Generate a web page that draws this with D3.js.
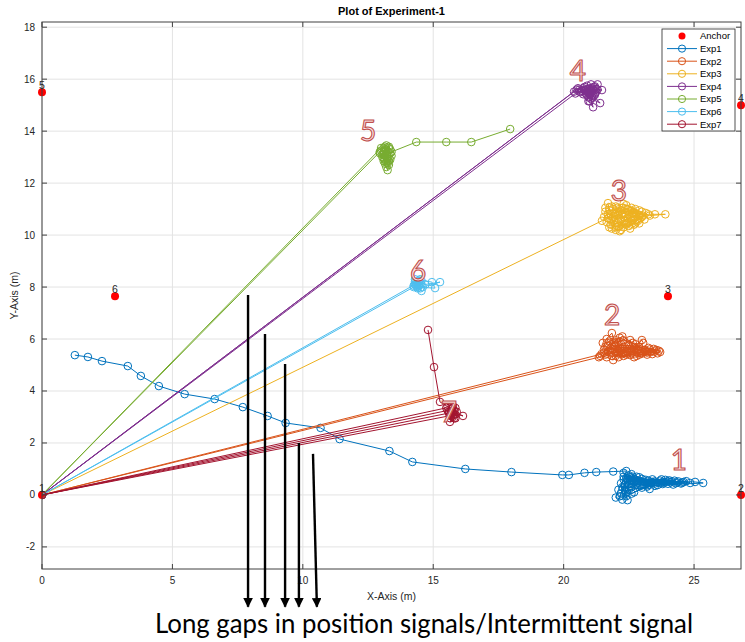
<!DOCTYPE html>
<html>
<head>
<meta charset="utf-8">
<script src="https://cdn.jsdelivr.net/npm/d3@7"></script>
<style>
  body { margin: 0; background: #fff; }
  svg { display: block; }
</style>
</head>
<body>
<svg id="chart" width="745" height="642"></svg>
<script>
// ---- Anchor positions (m) ----
const anchorIds = ["1", "2", "3", "4", "5", "6"];
const anchorX = [0, 26.8, 24.0, 26.8, 0, 2.8];
const anchorY = [0, 0, 7.65, 15.0, 15.5, 7.65];

// ---- Experiment tracks, [x, y] in metres, in time order ----
const exp1 = [
  [1.26,5.38],[1.76,5.31],[2.30,5.15],[3.29,4.96],[3.79,4.58],[4.48,4.19],[5.47,3.88],[6.62,3.69],
  [7.70,3.38],[8.65,3.04],[9.34,2.77],[10.68,2.58],[11.41,2.15],[13.32,1.69],[14.20,1.27],[16.23,1.00],
  [18.00,0.88],[19.95,0.77],[20.20,0.77],[20.80,0.85],[21.25,0.88],[21.90,0.90],[22.40,0.92],
  [22.30,0.60],[22.10,0.20],[22.00,-0.10],[22.25,-0.18],[22.40,0.10],[22.60,0.55],[23.10,0.50],[23.60,0.48],
  [22.50,0.75],[22.20,0.45],[22.45,-0.20],[22.35,0.30],[23.30,0.23],[22.70,0.62],[23.90,0.50],[24.30,0.45],
  [22.80,0.40],[22.30,0.70],[22.60,0.30],[23.40,0.60],[24.10,0.48],[24.60,0.50],[24.85,0.46],[23.80,0.42],
  [22.90,0.55],[22.40,0.50],[22.20,0.05],[22.55,0.68],[23.20,0.45],[24.40,0.52],[25.04,0.50],[25.35,0.46],
  [24.20,0.40],[23.50,0.52],[22.70,0.48],[22.30,0.85],[22.60,0.42],[23.00,0.62],[23.70,0.55],[24.00,0.43],
  [22.50,0.20],[22.15,-0.05],[22.35,0.40],[22.80,0.70],[23.30,0.40],[23.90,0.58],[24.50,0.44],[24.70,0.53],
  [23.60,0.38],[22.95,0.35],[22.45,0.62],[22.60,0.80],[23.15,0.58],[23.80,0.50],[24.25,0.55],
  [22.40,0.65],[22.70,0.55],[23.00,0.48],[23.40,0.50],[23.70,0.45],[24.00,0.52],[24.35,0.48],[23.50,0.44],
  [22.90,0.68],[22.55,0.58],[22.25,0.30],[22.40,-0.05],[22.70,0.10],[23.00,0.28],[23.50,0.35],[22.80,0.52],
  [23.25,0.55],[23.75,0.60],[24.15,0.52],[24.55,0.47],[23.85,0.47],[23.05,0.40],[22.50,0.40],[22.65,0.70],
  [23.35,0.48],[24.05,0.56],[22.85,0.46],[22.35,0.20],[22.60,0.05],[23.20,0.32]
];
const exp2 = [
  [21.40,5.35],[21.65,5.30],[21.90,5.19],[22.10,5.45],[21.55,5.60],[21.50,5.85],[21.85,6.23],[22.00,5.70],
  [22.40,5.55],[22.80,5.50],[23.20,5.48],[23.70,5.50],[23.40,5.42],[22.90,5.40],[22.30,5.35],[21.80,5.45],
  [22.20,5.80],[22.55,5.96],[22.70,5.62],[23.00,5.96],[23.05,5.85],[22.60,5.45],[22.10,5.30],[21.70,5.50],
  [21.35,5.30],[0,0],[21.45,5.42],
  [22.00,5.95],[22.35,5.68],[23.10,5.58],[23.50,5.52],[22.80,5.35],[22.20,5.55],[21.60,5.40],[21.95,5.75],
  [22.50,5.75],[23.30,5.60],[23.60,5.45],[22.70,5.30],[22.00,5.35],[22.45,5.50],[21.80,5.65],[22.90,5.70],
  [23.35,5.50],[22.15,6.05],[21.75,5.90],[22.25,5.42],
  [21.60,5.70],[22.05,5.60],[22.60,5.62],[23.15,5.52],[23.55,5.58],[22.95,5.48],[22.40,5.40],[21.85,5.35],
  [21.55,5.48],[21.95,5.88],[22.30,5.95],[22.75,5.80],[23.25,5.66],[23.65,5.55],[23.00,5.44],[22.50,5.60],
  [22.05,5.50],[21.70,5.75],[22.25,6.10],[22.65,5.85],[23.20,5.40],[22.85,5.58],[22.35,5.48],[21.90,5.60],
  [21.65,6.00],[22.10,5.85],[22.55,5.38],[23.45,5.62],[22.70,5.70],[22.15,5.65]
];
const exp3 = [
  [0,0],[21.47,10.55],[21.70,10.80],[21.60,11.05],[21.70,11.23],[22.00,11.10],[22.30,11.20],[22.60,11.05],
  [22.90,10.95],[22.50,10.80],[22.10,10.65],[21.80,10.40],[22.00,10.20],[22.20,10.20],[22.40,10.45],[22.80,10.60],
  [23.05,10.75],[23.25,10.80],[23.50,10.80],[23.90,10.80],[23.30,10.75],[22.70,10.85],[22.20,10.95],[21.90,11.00],
  [21.55,10.70],[21.80,10.60],[22.30,10.70],[22.60,10.55],[22.95,10.65],[22.50,10.35],[22.05,10.45],[21.65,10.50],
  [21.95,10.85],[22.45,11.00],[22.80,10.80],[22.35,10.55],[21.85,10.25],[22.15,10.90],[22.65,10.70],[23.00,10.90],
  [22.25,11.05],[21.75,10.95],[22.55,10.90],[22.10,10.35],[22.75,10.45],
  [21.60,10.90],[21.90,10.70],[22.25,10.85],[22.60,10.95],[22.90,10.75],[23.10,10.60],[22.70,10.40],[22.30,10.30],
  [21.95,10.55],[21.70,10.65],[22.05,11.05],[22.40,11.15],[22.75,11.00],[22.85,10.55],[22.45,10.65],[22.00,10.30],
  [21.80,10.80],[22.20,10.60],[22.55,10.25],[22.90,10.45],[23.15,10.85],[22.35,10.85],[21.85,11.10],[22.10,10.75],
  [22.65,10.60],[22.40,10.40],[21.75,10.30],[22.15,10.15],[22.60,10.80],[23.00,10.70]
];
const exp4 = [
  [0,0],[20.45,15.45],[20.60,15.60],[20.80,15.70],[21.05,15.80],[21.20,15.72],[21.00,15.55],[20.85,15.45],
  [20.95,15.30],[21.10,15.40],[21.30,15.60],[21.47,15.58],[20.50,15.60],[0,0],[20.40,15.52],
  [21.20,15.45],[20.95,15.15],[21.13,14.92],[21.05,15.25],[21.40,15.08],[21.15,15.35],[20.70,15.55],
  [20.55,15.65],[20.90,15.75],[21.10,15.65],[21.25,15.52],[20.90,15.50],[20.75,15.42],[21.00,15.65],
  [21.30,15.80],[21.00,15.40],
  [20.65,15.50],[20.80,15.60],[20.95,15.62],[21.15,15.55],[21.05,15.45],[20.90,15.38],[21.10,15.28],[21.00,15.15],
  [21.15,15.70],[20.75,15.65],[20.60,15.52],[21.25,15.62],[20.95,15.45],[21.05,15.58],[20.85,15.55],[21.20,15.40]
];
const exp5 = [
  [17.95,14.08],[16.46,13.58],[15.50,13.58],[14.35,13.58],[13.40,13.20],[13.25,13.05],[13.10,12.95],
  [13.20,12.80],[13.35,12.90],[13.30,12.70],[13.25,12.50],[13.15,12.75],[13.05,13.10],[13.20,13.45],
  [12.95,13.20],[0,0],[13.00,13.35],[13.15,13.40],[13.30,13.35],[13.35,13.30],[13.10,13.20],[13.25,12.95],
  [13.40,13.05],[13.15,13.30],[12.95,13.15],[13.30,12.85],
  [13.10,13.10],[13.25,13.20],[13.30,13.05],[13.15,12.90],[13.25,12.75],[13.20,12.62],[13.10,12.85],[13.05,13.00],
  [13.20,13.30],[13.30,13.40],[13.10,13.35],[13.00,13.25],[13.35,13.15],[13.15,13.05],[13.25,12.85]
];
const exp6 = [
  [14.35,8.20],[14.50,8.10],[14.40,7.95],[14.55,8.25],[14.30,8.30],[14.95,8.19],[15.07,7.96],[14.25,8.00],
  [0,0],[14.30,8.10],[14.45,8.05],[14.60,8.00],[15.26,8.19],[14.70,8.10],[14.40,8.15],[14.55,7.85],
  [14.25,8.05],[14.50,8.30],
  [14.35,8.10],[14.45,8.20],[14.55,8.10],[14.40,8.00],[14.30,8.20],[14.50,7.95],[14.45,8.25],[14.35,8.05]
];
const exp7 = [
  [14.80,6.35],[15.03,4.92],[15.26,3.58],[15.55,3.40],[15.70,3.30],[15.80,3.10],[15.65,2.95],[15.55,3.25],
  [0,0],[15.60,3.15],[15.75,3.45],[15.90,3.20],[15.64,2.81],[15.85,2.95],[15.65,3.05],[0,0],[15.50,3.35],
  [16.14,3.04],[15.75,3.15],[15.85,3.35],[15.70,3.05],[15.60,3.20],
  [15.70,3.20],[15.80,3.25],[15.75,3.00],[15.65,3.10],[15.85,3.10],[15.75,3.35],[15.80,2.95],[15.70,3.40]
];

const seriesNames = ["Exp1", "Exp2", "Exp3", "Exp4", "Exp5", "Exp6", "Exp7"];
const seriesData = [exp1, exp2, exp3, exp4, exp5, exp6, exp7];
const seriesColors = ["#0072BD", "#D95319", "#EDB120", "#7E2F8E", "#77AC30", "#4DBEEE", "#A2142F"];

const xTicks = [0, 5, 10, 15, 20, 25];
const yTicks = [-2, 0, 2, 4, 6, 8, 10, 12, 14, 16, 18];

// Hand-drawn callouts next to each experiment cluster
const calloutText = ["1", "2", "3", "4", "5", "6", "7"];
const calloutX = [24.42, 21.86, 22.12, 20.55, 12.50, 14.42, 15.60];
const calloutY = [1.38, 6.96, 11.73, 16.35, 14.04, 8.65, 3.23];

// Arrows pointing at the long straight jumps (top point, bottom point)
const arrowTopX = [7.90, 8.55, 9.32, 9.85, 10.39];
const arrowTopY = [7.69, 6.19, 5.04, 2.00, 1.58];
const arrowBotX = [7.90, 8.55, 9.32, 9.85, 10.54];
const arrowBotY = [-4.30, -4.30, -4.30, -4.30, -4.30];

// ---- Layout ----
const plot = { left: 42, right: 741, top: 22, bottom: 569 };
const x = d3.scaleLinear().domain([0, 26.8]).range([plot.left, plot.right]);
const y = d3.scaleLinear().domain([-2.85, 18.2]).range([plot.bottom, plot.top]);

const svg = d3.select("#chart");
const font = "'Liberation Sans', Arial, Helvetica, sans-serif";
const axisColor = "#404040";

svg.append("defs").append("clipPath").attr("id", "plotClip")
  .append("rect").attr("x", plot.left).attr("y", plot.top)
  .attr("width", plot.right - plot.left).attr("height", plot.bottom - plot.top);

// Grid
const grid = svg.append("g").attr("stroke", "#e3e3e3").attr("stroke-width", 1);
grid.selectAll(".gx").data(xTicks).join("line")
  .attr("x1", d => x(d)).attr("x2", d => x(d))
  .attr("y1", plot.top).attr("y2", plot.bottom);
grid.selectAll(".gy").data(yTicks).join("line")
  .attr("x1", plot.left).attr("x2", plot.right)
  .attr("y1", d => y(d)).attr("y2", d => y(d));

// Anchors
svg.append("g").selectAll("circle").data(anchorIds).join("circle")
  .attr("cx", (d, i) => x(anchorX[i])).attr("cy", (d, i) => y(anchorY[i]))
  .attr("r", 4).attr("fill", "#ff0000");

// Experiment tracks
const line = d3.line().x(d => x(d[0])).y(d => y(d[1]));
const tracks = svg.append("g").attr("clip-path", "url(#plotClip)");
seriesData.forEach((pts, k) => {
  const g = tracks.append("g");
  g.append("path").attr("d", line(pts)).attr("fill", "none")
    .attr("stroke", seriesColors[k]).attr("stroke-width", 1);
  g.selectAll("circle").data(pts).join("circle")
    .attr("cx", d => x(d[0])).attr("cy", d => y(d[1])).attr("r", 3.8)
    .attr("fill", "none").attr("stroke", seriesColors[k]).attr("stroke-width", 1);
});

// Axes box and inward ticks
const axes = svg.append("g").attr("stroke", axisColor).attr("stroke-width", 1).attr("fill", "none");
axes.append("rect").attr("x", plot.left).attr("y", plot.top)
  .attr("width", plot.right - plot.left).attr("height", plot.bottom - plot.top);
const tl = 5;
xTicks.forEach(t => {
  axes.append("line").attr("x1", x(t)).attr("x2", x(t)).attr("y1", plot.bottom).attr("y2", plot.bottom - tl);
  axes.append("line").attr("x1", x(t)).attr("x2", x(t)).attr("y1", plot.top).attr("y2", plot.top + tl);
});
yTicks.forEach(t => {
  axes.append("line").attr("y1", y(t)).attr("y2", y(t)).attr("x1", plot.left).attr("x2", plot.left + tl);
  axes.append("line").attr("y1", y(t)).attr("y2", y(t)).attr("x1", plot.right).attr("x2", plot.right - tl);
});

// Tick labels
const labels = svg.append("g").attr("font-family", font).attr("font-size", 10).attr("fill", "#262626");
labels.selectAll(".xl").data(xTicks).join("text")
  .attr("x", d => x(d)).attr("y", plot.bottom + 15).attr("text-anchor", "middle").text(d => d);
labels.selectAll(".yl").data(yTicks).join("text")
  .attr("x", plot.left - 7).attr("y", d => y(d) + 3.5).attr("text-anchor", "end").text(d => d);

// Axis titles and chart title
svg.append("text").attr("x", (plot.left + plot.right) / 2).attr("y", 600)
  .attr("text-anchor", "middle").attr("font-family", font).attr("font-size", 10.5)
  .attr("fill", "#262626").text("X-Axis (m)");
svg.append("text").attr("transform", `translate(18,${(plot.top + plot.bottom) / 2}) rotate(-90)`)
  .attr("text-anchor", "middle").attr("font-family", font).attr("font-size", 10.5)
  .attr("fill", "#262626").text("Y-Axis (m)");
svg.append("text").attr("x", (plot.left + plot.right) / 2).attr("y", 15)
  .attr("text-anchor", "middle").attr("font-family", font).attr("font-size", 11)
  .attr("font-weight", "bold").attr("fill", "#000").text("Plot of Experiment-1");

// Anchor numbers
svg.append("g").attr("font-family", font).attr("font-size", 10.5).attr("fill", "#262626")
  .selectAll("text").data(anchorIds).join("text")
  .attr("x", (d, i) => x(anchorX[i])).attr("y", (d, i) => y(anchorY[i]) - 3)
  .attr("text-anchor", "middle").text(d => d);

// Legend
const leg = svg.append("g");
leg.append("rect").attr("x", 662).attr("y", 29).attr("width", 73).attr("height", 102)
  .attr("fill", "#fff").attr("stroke", "#262626").attr("stroke-width", 0.8);
const legRows = ["Anchor"].concat(seriesNames);
legRows.forEach((name, i) => {
  const cy = 36 + i * 12.6;
  if (i === 0) {
    leg.append("circle").attr("cx", 682).attr("cy", cy).attr("r", 3.5).attr("fill", "#ff0000");
  } else {
    const c = seriesColors[i - 1];
    leg.append("line").attr("x1", 667).attr("x2", 697).attr("y1", cy).attr("y2", cy)
      .attr("stroke", c).attr("stroke-width", 1);
    leg.append("circle").attr("cx", 682).attr("cy", cy).attr("r", 3.6)
      .attr("fill", "none").attr("stroke", c).attr("stroke-width", 1);
  }
  leg.append("text").attr("x", 700).attr("y", cy + 3.3).attr("font-family", font)
    .attr("font-size", 9.5).attr("fill", "#000").text(name);
});

// Cluster callouts
svg.append("g").attr("font-family", "Lato, 'Open Sans', sans-serif").attr("font-size", 28)
  .attr("fill", "#fbe4e4").attr("stroke", "#c0504d").attr("stroke-width", 1.1)
  .selectAll("text").data(calloutText).join("text")
  .attr("x", (d, i) => x(calloutX[i])).attr("y", (d, i) => y(calloutY[i]))
  .attr("text-anchor", "middle").attr("dominant-baseline", "central").text(d => d);

// Arrows
const defs = svg.select("defs");
defs.append("marker").attr("id", "head").attr("viewBox", "0 0 10 10")
  .attr("refX", 9).attr("refY", 5).attr("markerWidth", 4).attr("markerHeight", 4)
  .attr("orient", "auto").append("path").attr("d", "M0,0L10,5L0,10Z").attr("fill", "#000");
svg.append("g").selectAll("line").data(arrowTopX).join("line")
  .attr("x1", (d, i) => x(arrowTopX[i])).attr("y1", (d, i) => y(arrowTopY[i]))
  .attr("x2", (d, i) => x(arrowBotX[i])).attr("y2", (d, i) => y(arrowBotY[i]))
  .attr("stroke", "#000").attr("stroke-width", 2.4).attr("marker-end", "url(#head)");

// Caption
svg.append("text").attr("x", 155).attr("y", 633)
  .attr("font-family", "Lato, 'Open Sans', sans-serif").attr("font-size", 26).attr("fill", "#000")
  .attr("textLength", 538).attr("lengthAdjust", "spacingAndGlyphs")
  .text("Long gaps in position signals/Intermittent signal");
</script>
</body>
</html>
